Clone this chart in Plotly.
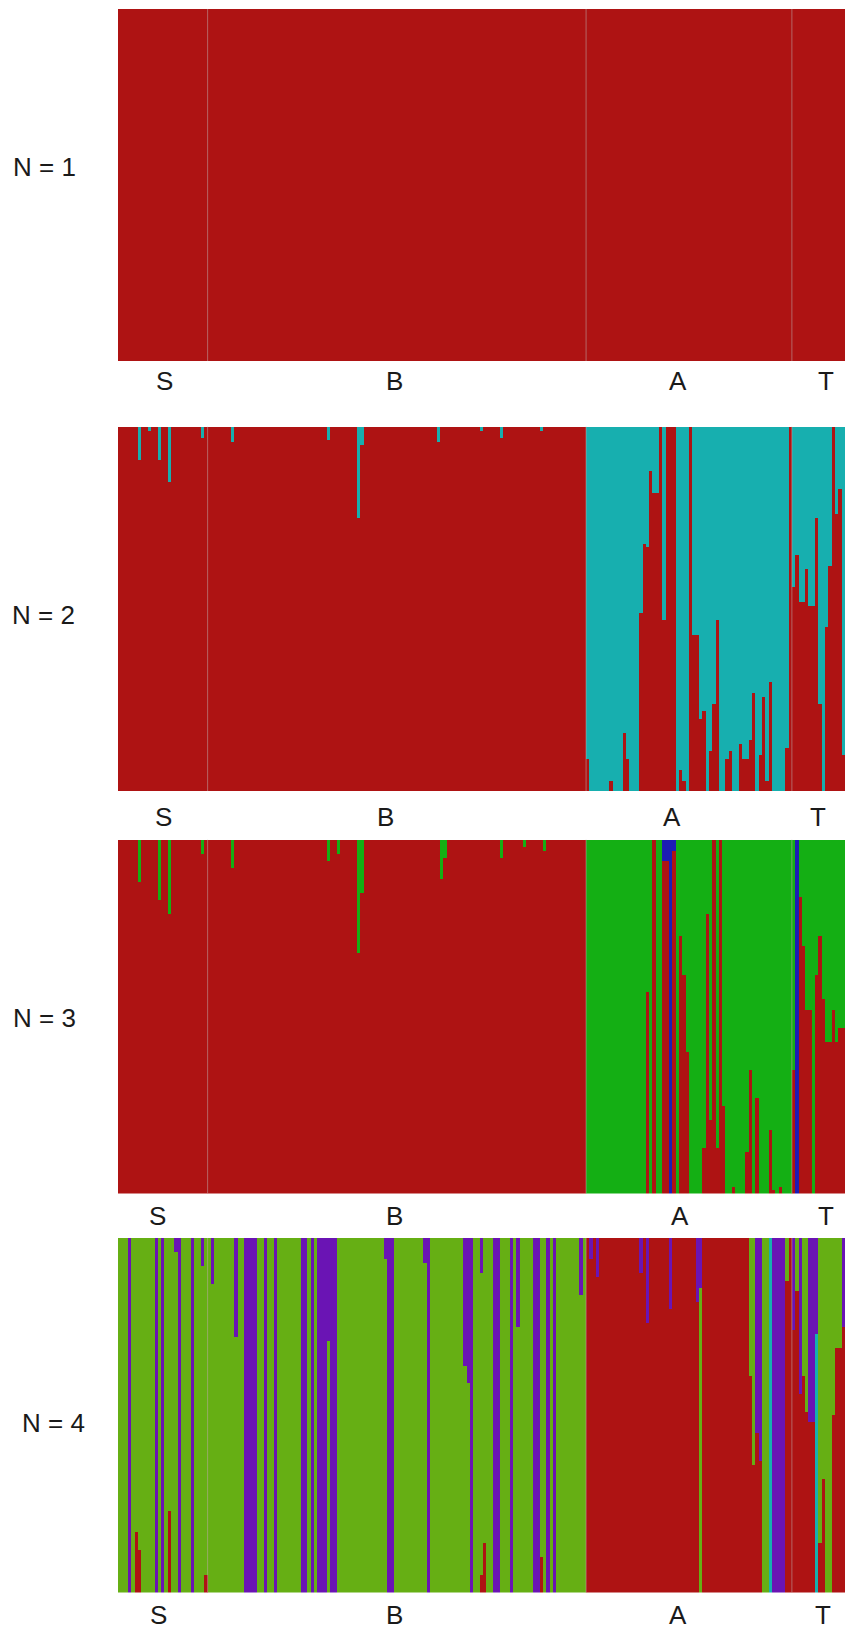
import plotly.graph_objects as go

# ---------------- data ----------------
POPS = ["S", "B", "A", "T"]
POP_SIZES = [27, 114, 62, 16]
PANEL_LABELS = ["N = 1", "N = 2", "N = 3", "N = 4"]

RED = "#AE1313"
CYAN = "#17AFAF"
GREEN3 = "#14AF14"
BLUE3 = "#1C1CB6"
GREEN4 = "#66AF14"
PURPLE4 = "#6A14B4"

# Panel 1 : one cluster
P1_CLUSTERS = [RED]
P1_DEFAULT = {"S": (1.0,), "B": (1.0,), "A": (1.0,), "T": (1.0,)}
P1_MIX = {}

# Panel 2 : (red, cyan) -- red share of admixed individuals
P2_CLUSTERS = [RED, CYAN]
P2_DEFAULT = {"S": (1.0, 0.0), "B": (1.0, 0.0), "A": (0.0, 1.0), "T": (0.0, 1.0)}
P2_RED = {6: .91, 9: .99, 12: .91, 15: .85, 25: .97, 34: .96, 63: .965, 72: .75,
          73: .95, 96: .96, 109: .99, 115: .97, 127: .99,
          141: .09, 148: .03, 152: .16, 153: .09, 157: .49, 158: .68, 159: .67,
          160: .88, 161: .82, 162: .82, 163: 1.0, 164: .47, 165: 1.0, 166: 1.0,
          167: 1.0, 169: .06, 170: .03, 172: 1.0, 173: .43, 174: .43, 175: .20,
          176: .22, 178: .11, 179: .24, 180: .47, 183: .09, 184: .11, 187: .13,
          188: .09, 189: .09, 190: .14, 191: .27, 193: .10, 194: .26, 195: .03,
          196: .30, 201: .12, 202: 1.0,
          203: .56, 204: .65, 205: .52, 206: .52, 207: .61, 208: .51, 209: .51,
          210: .75, 211: .24, 213: .45, 214: .62, 215: 1.0, 216: .76, 217: .83,
          218: .10}

# Panel 3 : (red, green, blue)
P3_CLUSTERS = [RED, GREEN3, BLUE3]
P3_DEFAULT = {"S": (1.0, 0.0, 0.0), "B": (1.0, 0.0, 0.0),
              "A": (0.0, 1.0, 0.0), "T": (0.0, 1.0, 0.0)}
P3_GREEN_SB = {6: .12, 12: .17, 15: .21, 25: .04, 34: .08, 63: .06, 66: .04,
               72: .32, 73: .15, 97: .11, 98: .05, 115: .05, 122: .02, 128: .03}
P3_RED_AT = {159: .57, 161: 1.0, 169: .73, 170: .62, 171: .40, 176: .13,
             177: .79, 178: .21, 179: 1.0, 180: .13, 181: 1.0, 182: .25, 185: .02,
             189: .12, 190: .35, 192: .27, 196: .18, 197: .01, 199: .02, 203: .35,
             205: .84, 206: .70, 207: .52, 208: .52, 210: .62, 211: .73, 212: .55,
             213: .43, 214: .43, 215: .52, 216: .43, 217: .47, 218: .47}
P3_BLUE_MIX = {164: (.94, 0.0, .06), 165: (.94, 0.0, .06), 166: (0.0, 0.0, 1.0),
               167: (.97, 0.0, .03), 204: (0.0, 0.0, 1.0)}

# Panel 4 : (cyan, red, green, purple)  bottom -> top
P4_CLUSTERS = [CYAN, RED, GREEN4, PURPLE4]
P4_DEFAULT = {"S": (0, 0, 1.0, 0), "B": (0, 0, 1.0, 0),
              "A": (0, 1.0, 0, 0), "T": (0, 1.0, 0, 0)}
P4_PURPLE_FULL = [3, 11, 13, 18, 22, 38, 39, 40, 41, 44, 47, 55, 56, 58, 60, 61,
                  62, 64, 65, 81, 82, 93, 106, 113, 114, 118, 125, 126, 129, 131]
P4_MIX = {17: (0, 0, .96, .04), 25: (0, 0, .92, .08), 28: (0, 0, .87, .13),
          35: (0, 0, .72, .28), 63: (0, 0, .71, .29), 80: (0, 0, .94, .06),
          92: (0, 0, .93, .07), 104: (0, 0, .64, .36), 105: (0, 0, .59, .41),
          109: (0, .05, .85, .10), 120: (0, 0, .75, .25), 139: (0, 0, .84, .16),
          5: (0, .17, .83, 0), 6: (0, .12, .88, 0), 15: (0, .23, .77, 0),
          26: (0, .05, .95, 0), 110: (0, .14, .86, 0), 127: (0, .10, .90, 0),
          142: (0, .94, 0, .06), 144: (0, .89, 0, .11), 157: (0, .90, 0, .10),
          159: (0, .76, 0, .24), 166: (0, .80, 0, .20), 174: (0, .82, 0, .18),
          175: (0, 0, .86, .14), 190: (0, .61, .39, 0), 191: (0, .36, .64, 0),
          192: (0, .45, 0, .55), 193: (0, .37, 0, .63), 194: (0, 0, 1.0, 0),
          195: (0, 0, 1.0, 0), 196: (1.0, 0, 0, 0), 197: (0, 0, 0, 1.0),
          198: (0, 0, 0, 1.0), 199: (0, 0, 0, 1.0), 200: (0, 0, 0, 1.0),
          201: (0, .88, .12, 0), 202: (0, 1.0, 0, 0),
          203: (0, .74, 0, .26), 204: (0, .85, .15, 0), 205: (0, .56, 0, .44),
          206: (0, .61, .39, 0), 207: (0, .51, .49, 0), 208: (0, .48, 0, .52),
          209: (0, .48, 0, .52), 210: (.73, 0, 0, .27), 211: (0, .14, .86, 0),
          212: (0, .32, .68, 0), 213: (0, 0, 1.0, 0), 214: (0, 0, 1.0, 0),
          215: (0, .50, .50, 0), 216: (0, .69, .31, 0), 217: (0, .69, .31, 0),
          218: (0, .75, 0, .25)}

# ---------------- assemble ----------------
N_IND = sum(POP_SIZES)
POP_OF = []
for pop, n in zip(POPS, POP_SIZES):
    POP_OF += [pop] * n

p2_mix = {i: (r, 1 - r) for i, r in P2_RED.items()}
p3_mix = {i: (1 - g, g, 0.0) for i, g in P3_GREEN_SB.items()}
p3_mix.update({i: (r, 1 - r, 0.0) for i, r in P3_RED_AT.items()})
p3_mix.update(P3_BLUE_MIX)
p4_mix = {i: (0, 0, 0, 1.0) for i in P4_PURPLE_FULL}
p4_mix.update(P4_MIX)

PANELS = [
    (P1_CLUSTERS, P1_DEFAULT, P1_MIX),
    (P2_CLUSTERS, P2_DEFAULT, p2_mix),
    (P3_CLUSTERS, P3_DEFAULT, p3_mix),
    (P4_CLUSTERS, P4_DEFAULT, p4_mix),
]

W, H = 845, 1633
PLOT_LEFT = 118
PANEL_PX = [(9, 361), (426.5, 791), (839.5, 1193.5), (1238, 1592.5)]
POP_LABEL_Y = [381, 817, 1216, 1615]
POP_LABEL_X = [[164, 394, 678, 826], [163, 385, 672, 818],
               [157, 394, 680, 826], [158, 394, 678, 823]]
N_LABEL_XY = [(44, 167), (43, 615), (44, 1018), (53, 1423)]

fig = go.Figure()
xs = list(range(N_IND))
layout = dict(width=W, height=H, margin=dict(l=0, r=0, t=0, b=0),
              paper_bgcolor="white", plot_bgcolor="white",
              barmode="stack", bargap=0, showlegend=False)

bounds = []
acc = 0
for n in POP_SIZES[:-1]:
    acc += n
    bounds.append(acc - 0.5)

shapes = []
annotations = []
FONT = "Liberation Sans, Arial, sans-serif"
for k, (clusters, default, mix) in enumerate(PANELS):
    n = k + 1
    xa = "x" if n == 1 else f"x{n}"
    ya = "y" if n == 1 else f"y{n}"
    rows = [mix.get(i, default[POP_OF[i]]) for i in range(N_IND)]
    for c, color in enumerate(clusters):
        fig.add_trace(go.Bar(x=xs, y=[r[c] for r in rows], width=1.0,
                             marker=dict(color=color, line=dict(width=0)),
                             xaxis=xa, yaxis=ya, hoverinfo="skip"))
    top, bot = PANEL_PX[k]
    key = "" if n == 1 else str(n)
    layout["xaxis" + key] = dict(domain=[PLOT_LEFT / W, 1], range=[-0.5, N_IND - 0.5],
                                 anchor=ya, visible=False, fixedrange=True)
    layout["yaxis" + key] = dict(domain=[1 - bot / H, 1 - top / H], range=[0, 1],
                                 anchor=xa, visible=False, fixedrange=True)
    for b in bounds:
        shapes.append(dict(type="line", xref=xa, yref=ya, x0=b, x1=b, y0=0, y1=1,
                           line=dict(color="rgba(190,170,170,0.55)", width=1)))
    for pop, px in zip(POPS, POP_LABEL_X[k]):
        annotations.append(dict(text=pop, xref="paper", yref="paper",
                                x=px / W, y=1 - POP_LABEL_Y[k] / H,
                                xanchor="center", yanchor="middle", showarrow=False,
                                font=dict(family=FONT, size=26, color="#1a1a1a")))
    nx, ny = N_LABEL_XY[k]
    annotations.append(dict(text=PANEL_LABELS[k], xref="paper", yref="paper",
                            x=nx / W, y=1 - ny / H, xanchor="center", yanchor="middle",
                            showarrow=False,
                            font=dict(family=FONT, size=26, color="#1a1a1a")))

layout["shapes"] = shapes
layout["annotations"] = annotations
fig.update_layout(**layout)
fig.write_html("out.html")
